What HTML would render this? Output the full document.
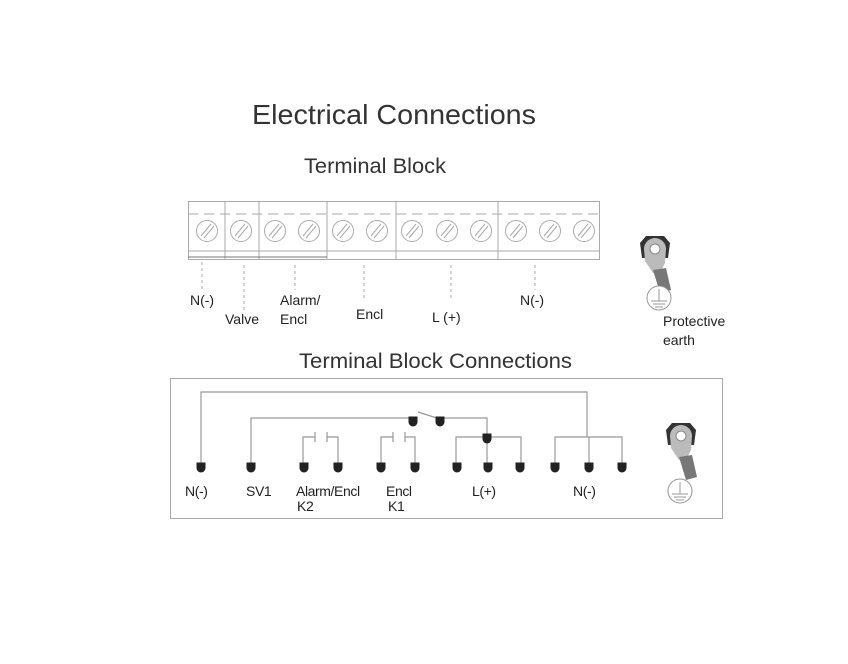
<!DOCTYPE html>
<html><head><meta charset="utf-8"><style>
html,body{margin:0;padding:0;background:#fff;}
svg{display:block;font-family:"Liberation Sans",Arial,sans-serif;}
</style></head><body>
<svg width="848" height="664" viewBox="0 0 848 664" xmlns="http://www.w3.org/2000/svg">
<defs>
<g id="screw"><circle r="10.5" fill="#fff" stroke="#aaa" stroke-width="1"/><line x1="-6" y1="5" x2="4" y2="-7" stroke="#aaa"/><line x1="-3" y1="7" x2="7" y2="-5" stroke="#aaa"/></g>
<g id="lug">
<path d="M-15 -12 L-9 -19 L9 -19 L15 -12 L13 3 L-13 3 Z" fill="#333"/>
<path d="M-11 -6 A11 11 0 0 1 11 -6 L10 8 L5 18 L-2 18 L-10 6 Z" fill="#bbb"/>
<circle cx="0" cy="-6" r="5" fill="#fff" stroke="#888"/>
<path d="M-2 15 L11 13 L16 35 L5 38 Z" fill="#777"/>
</g>
<g id="earth"><circle r="12" fill="#fff" stroke="#999"/><line x1="0" y1="-9" x2="0" y2="3" stroke="#999"/><line x1="-8" y1="3" x2="8" y2="3" stroke="#999"/><line x1="-6" y1="6" x2="6" y2="6" stroke="#999"/><line x1="-4" y1="9" x2="4" y2="9" stroke="#999"/></g>
<path id="term" d="M-4.5 -4.5 L4.5 -4.5 L4.5 1 A4.5 4.5 0 0 1 -4.5 1 Z" fill="#222"/>
</defs>

<text x="252" y="124" font-size="28" fill="#333" textLength="284" lengthAdjust="spacingAndGlyphs">Electrical Connections</text>
<text x="304" y="173" font-size="21" fill="#333" textLength="142" lengthAdjust="spacingAndGlyphs">Terminal Block</text>

<g stroke="#aaa" fill="none" stroke-width="1">
<rect x="188.5" y="201.5" width="411" height="58"/>
<line x1="225" y1="202" x2="225" y2="260"/><line x1="259" y1="202" x2="259" y2="260"/>
<line x1="327" y1="202" x2="327" y2="260"/><line x1="396" y1="202" x2="396" y2="260"/>
<line x1="498" y1="202" x2="498" y2="260"/>
<line x1="188" y1="214" x2="600" y2="214" stroke-dasharray="10 6"/>
<line x1="188" y1="251" x2="600" y2="251"/>
<line x1="188" y1="257" x2="327" y2="257" stroke="#777"/>
<g stroke-dasharray="3 3">
<line x1="202" y1="262" x2="202" y2="290"/><line x1="244" y1="265" x2="244" y2="312"/>
<line x1="295" y1="265" x2="295" y2="290"/><line x1="364" y1="265" x2="364" y2="300"/>
<line x1="451" y1="265" x2="451" y2="300"/><line x1="535" y1="265" x2="535" y2="290"/>
</g>
</g>
<use href="#screw" x="207" y="231"/><use href="#screw" x="241" y="231"/><use href="#screw" x="275" y="231"/>
<use href="#screw" x="309" y="231"/><use href="#screw" x="343" y="231"/><use href="#screw" x="377" y="231"/>
<use href="#screw" x="412" y="231"/><use href="#screw" x="447" y="231"/><use href="#screw" x="481" y="231"/>
<use href="#screw" x="516" y="231"/><use href="#screw" x="550" y="231"/><use href="#screw" x="584" y="231"/>

<g font-size="14" fill="#222">
<text x="190" y="305">N(-)</text><text x="225" y="324">Valve</text>
<text x="280" y="305">Alarm/</text><text x="280" y="324">Encl</text>
<text x="356" y="319">Encl</text><text x="432" y="322">L (+)</text>
<text x="520" y="305">N(-)</text>
<text x="663" y="326">Protective</text><text x="663" y="345">earth</text>
</g>
<use href="#lug" x="655" y="255"/><use href="#earth" x="659" y="298"/>

<text x="299" y="368" font-size="21" fill="#333" textLength="273" lengthAdjust="spacingAndGlyphs">Terminal Block Connections</text>
<rect x="170.5" y="378.5" width="552" height="140" fill="none" stroke="#aaa"/>

<g stroke="#999" fill="none" stroke-width="1.2">
<polyline points="201,465 201,392 587,392 587,437"/>
<polyline points="251,465 251,418 413,418"/>
<line x1="418" y1="412" x2="440" y2="419"/>
<polyline points="440,418 487,418 487,465"/>
<polyline points="456,465 456,437 521,437 521,465"/>
<polyline points="555,465 555,437 622,437 622,465"/>
<line x1="589" y1="437" x2="589" y2="465"/>
<polyline points="303,465 303,437 315,437"/><line x1="315" y1="432" x2="315" y2="442"/>
<line x1="327" y1="432" x2="327" y2="442"/><polyline points="327,437 338,437 338,465"/>
<polyline points="381,465 381,437 393,437"/><line x1="393" y1="432" x2="393" y2="442"/>
<line x1="405" y1="432" x2="405" y2="442"/><polyline points="405,437 415,437 415,465"/>
</g>
<use href="#term" x="413" y="421"/><use href="#term" x="440" y="421"/><use href="#term" x="487" y="438"/>
<use href="#term" x="201" y="467"/><use href="#term" x="251" y="467"/><use href="#term" x="304" y="467"/>
<use href="#term" x="338" y="467"/><use href="#term" x="381" y="467"/><use href="#term" x="415" y="467"/>
<use href="#term" x="457" y="467"/><use href="#term" x="488" y="467"/><use href="#term" x="520" y="467"/>
<use href="#term" x="555" y="467"/><use href="#term" x="589" y="467"/><use href="#term" x="622" y="467"/>

<g font-size="14" fill="#222" letter-spacing="-0.4">
<text x="185" y="496">N(-)</text><text x="246" y="496">SV1</text>
<text x="296" y="496">Alarm/Encl</text><text x="297" y="511">K2</text>
<text x="386" y="496">Encl</text><text x="388" y="511">K1</text>
<text x="472" y="496">L(+)</text><text x="573" y="496">N(-)</text>
</g>
<use href="#lug" x="681" y="442"/><use href="#earth" x="680" y="491"/>
</svg>
</body></html>
